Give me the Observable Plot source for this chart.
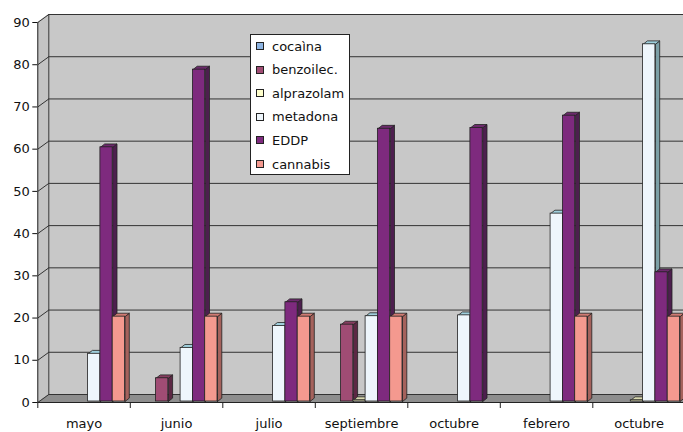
<!DOCTYPE html>
<html><head><meta charset="utf-8">
<script src="https://cdn.jsdelivr.net/npm/d3@7"></script>
<script src="https://cdn.jsdelivr.net/npm/@observablehq/plot@0.6"></script>
<style>
body{margin:0;background:#fff;overflow:hidden}
#wrap{position:relative;width:683px;height:432px;overflow:hidden}
#legend{position:absolute;left:250px;top:34px;width:98px;height:139px;background:#fff;border:1px solid #222;font:13px "DejaVu Sans",sans-serif;color:#111}
.row{position:absolute;left:0;height:16px;display:flex;align-items:center;white-space:nowrap}
.sw{box-sizing:border-box;width:8px;height:8px;border:1px solid #222;margin-left:5px;margin-right:8px}
</style></head><body><div id="wrap"></div>
<script>
// ---- data ----
const categories = ["mayo","junio","julio","septiembre","octubre","febrero","octubre"];
const series = ["cocaìna","benzoilec.","alprazolam","metadona","EDDP","cannabis"];
const cocaina    = [0,0,0,0,0,0,0];
const benzoilec  = [0,5.5,0,18.2,0,0,0];
const alprazolam = [0,0,0,0.3,0,0,0.3];
const metadona   = [11.3,12.7,17.9,20.2,20.4,44.5,84.6];
const eddp       = [60.2,78.6,23.5,64.6,64.8,67.7,30.6];
const cannabis   = [20.1,20.1,20.1,20.1,0,20.1,20.1];
const values = [cocaina, benzoilec, alprazolam, metadona, eddp, cannabis];

// ---- style ----
const frontColors = ["#8db4e2","#a04c74","#ffffcc","#eef6fc","#7e2a7e","#f4998f"];
const sideColors  = ["#5d7fa8","#5c2844","#a9a986","#7b9fa6","#4d1f4e","#a5625c"];
const topColors   = ["#a9c6ea","#863e60","#d9d9b0","#9fcfdc","#6c2a6c","#d07a72"];

const K = 92.5;          // px per category
const PX = 380 / 90;     // px per unit
const DX = 11 / K, DY = 8 / PX;      // wall depth
const BX = 4.3 / K, BY = 3.4 / PX;   // bar depth
const OFF = 13.4 / K, W = 12.3 / K;  // bar offset & width within category
const XMAX = 7.4;
const ticks = d3.range(0, 100, 10);

const bars = [];
series.forEach((s, si) => values[si].forEach((v, ci) => {
  if (v > 0) {
    const x1 = ci + OFF + si * W, x2 = x1 + W;
    bars.push({s, si, ci, v, x1, x2, id: si + "-" + ci});
  }
}));
const sidePts = bars.flatMap(b => [
  {id:b.id, si:b.si, x:b.x2, y:0}, {id:b.id, si:b.si, x:b.x2+BX, y:BY},
  {id:b.id, si:b.si, x:b.x2+BX, y:b.v+BY}, {id:b.id, si:b.si, x:b.x2, y:b.v},
  {id:b.id, si:b.si, x:b.x2, y:0}]);
const topPts = bars.flatMap(b => [
  {id:b.id, si:b.si, x:b.x1, y:b.v}, {id:b.id, si:b.si, x:b.x2, y:b.v},
  {id:b.id, si:b.si, x:b.x2+BX, y:b.v+BY}, {id:b.id, si:b.si, x:b.x1+BX, y:b.v+BY},
  {id:b.id, si:b.si, x:b.x1, y:b.v}]);

const edge = {stroke: "#222", strokeWidth: 0.8, dy: -1};
const sideMarks = series.map((s, si) => Plot.line(sidePts.filter(p => p.si === si), {x:"x", y:"y", z:"id", fill: sideColors[si], ...edge}));
const topMarks = series.map((s, si) => Plot.line(topPts.filter(p => p.si === si), {x:"x", y:"y", z:"id", fill: topColors[si], ...edge}));
const frontMarks = series.map((s, si) => Plot.rect(bars.filter(b => b.si === si), {x1:"x1", x2:"x2", y1:0, y2:"v", fill: frontColors[si], ...edge}));

const chart = Plot.plot({
  width: 683, height: 432,
  marginLeft: 37.3, marginRight: 0, marginTop: 22, marginBottom: 30,
  x: {type: "linear", domain: [0, 7], range: [37.3, 684.8], axis: null},
  y: {domain: [0, 90], range: [402, 22], ticks: 10, tickSize: 5, tickPadding: 3, label: null},
  style: {fontFamily: "DejaVu Sans", fontSize: "13px", background: "white", color: "#111"},
  marks: [
    Plot.rect([0], {x1: DX, x2: XMAX, y1: DY, y2: 90 + DY, fill: "#c8c8c8"}),
    Plot.areaY([{x:0, y1:0, y2:90}, {x:DX, y1:DY, y2:90+DY}], {x:"x", y1:"y1", y2:"y2", fill:"#c3c3c3"}),
    Plot.areaY([{x:0, y1:0, y2:0}, {x:DX, y1:0, y2:DY}, {x:XMAX, y1:0, y2:DY}], {x:"x", y1:"y1", y2:"y2", fill:"#8e8e8e"}),
    Plot.ruleY(ticks, {y: d => d + DY, x1: DX, x2: XMAX, stroke: "#333"}),
    Plot.link(ticks, {x1: 0, y1: d => d, x2: DX, y2: d => d + DY, stroke: "#333"}),
    Plot.ruleX([DX], {y1: DY, y2: 90 + DY, stroke: "#333"}),
    ...sideMarks, ...topMarks, ...frontMarks,
    Plot.ruleY([0], {x1: 0, x2: XMAX, stroke: "#222"}),
    Plot.ruleX([0], {y1: 0, y2: 90, stroke: "#222"}),
    Plot.ruleX(d3.range(0, 7), {y1: 0, y2: -6 / PX, stroke: "#222"}),
    Plot.text(categories, {x: (d, i) => i + 0.5, y: 0, dy: 25, lineAnchor: "bottom", text: d => d, fill: "#111"})
  ]
});

const wrap = document.getElementById("wrap");
wrap.appendChild(chart);

const legend = document.createElement("div");
legend.id = "legend";
series.forEach((s, i) => {
  const row = document.createElement("div");
  row.className = "row";
  row.style.top = (3 + i * 23.6) + "px";
  const sw = document.createElement("div");
  sw.className = "sw";
  sw.style.background = frontColors[i];
  const t = document.createElement("span");
  t.textContent = s;
  row.appendChild(sw); row.appendChild(t);
  legend.appendChild(row);
});
wrap.appendChild(legend);
</script></body></html>
